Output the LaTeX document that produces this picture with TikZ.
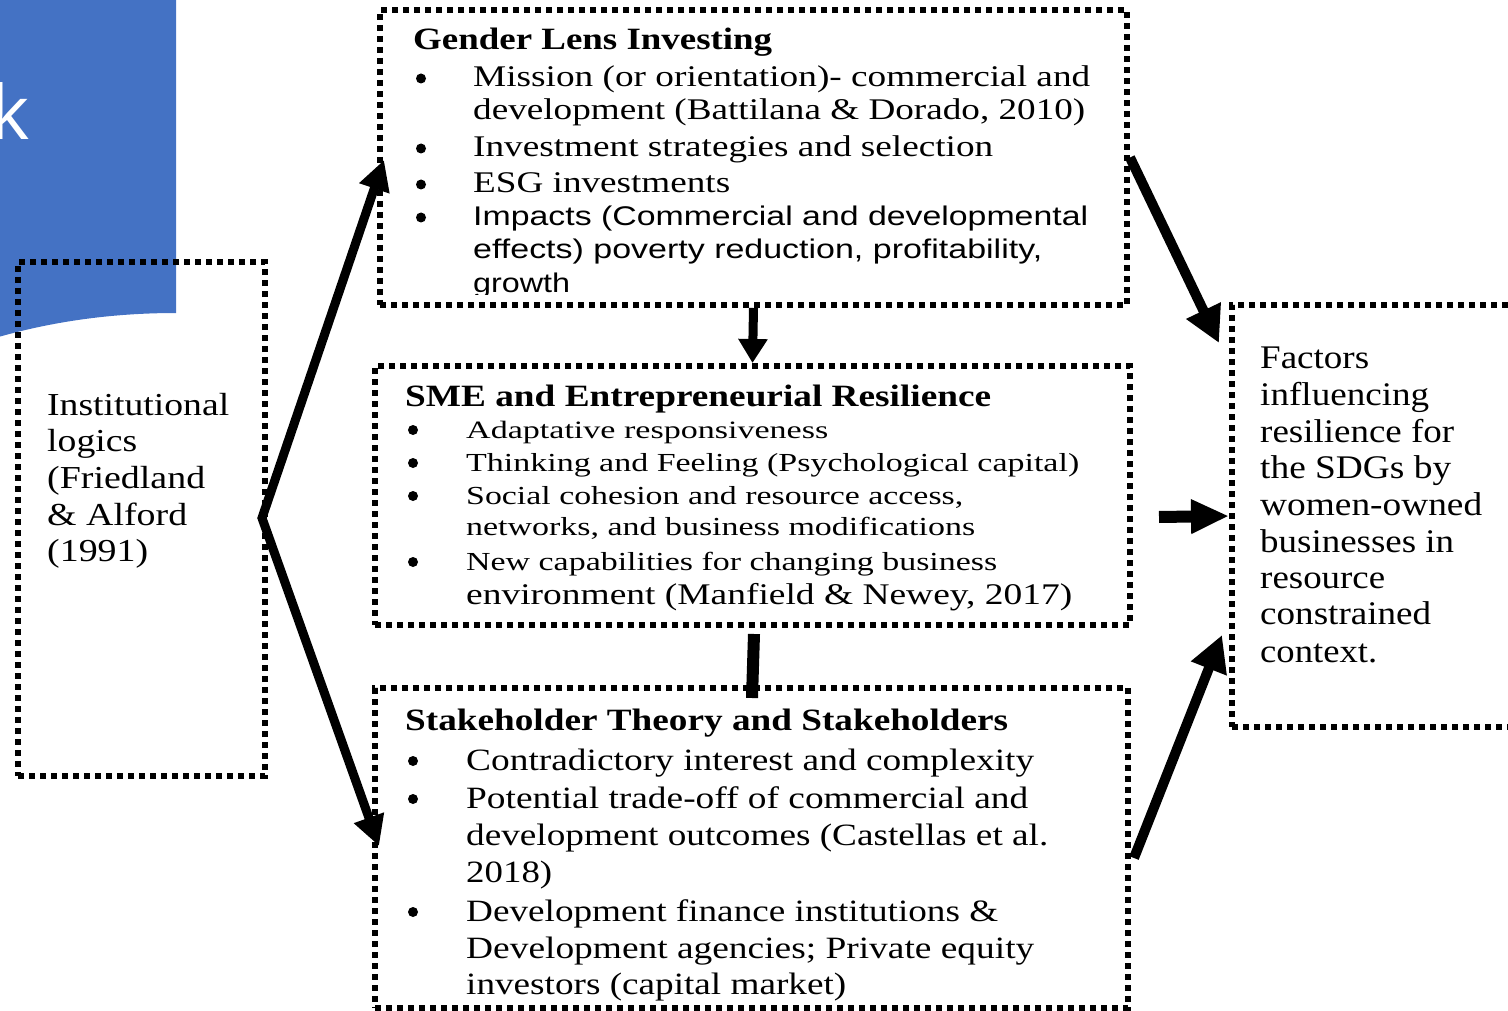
\documentclass[tikz,border=0pt]{standalone}
\usepackage{fontspec}
\setmainfont{Liberation Serif}
\newfontfamily\sansf{Liberation Sans}
\newfontfamily\kfont{Open Sans}
\usetikzlibrary{arrows.meta}
\definecolor{slideblue}{RGB}{68,114,196}
\newcommand{\fitw}[2]{\resizebox{#1pt}{\height}{#2}}
\begin{document}
\begin{tikzpicture}[x=1pt,y=-1pt,
  dotbox/.style={draw=black, line width=6pt, dash pattern=on 6pt off 5pt, inner sep=0pt},
  txt/.style={anchor=base west, inner sep=0pt, font=\fontsize{30}{36}\selectfont},
  ttl/.style={anchor=base west, inner sep=0pt, font=\fontsize{31}{36}\selectfont\bfseries},
  bdot/.style={circle, fill=black, inner sep=0pt, minimum size=10pt},
  bigarrow/.style={line width=10pt, -{Triangle[length=36pt,width=36pt]}},
]
\useasboundingbox (0,0) rectangle (1508,1011);
% slide background piece
\fill[slideblue] (-5,-5) -- (176,-5) -- (176,313) .. controls (110,313) and (50,322) .. (-5,338) -- cycle;
\node[anchor=base east, inner sep=0pt, text=white, font=\fontsize{75}{80}\kfont] (kk) at (30,140) {k};

% boxes
\node[dotbox, minimum width=247pt, minimum height=514pt] (L) at (141.5,519) {};
\node[dotbox, minimum width=747pt, minimum height=295pt] (b1) at (753.5,157.5) {};
\node[dotbox, minimum width=755pt, minimum height=259pt] (b2) at (752.5,495.5) {};
\node[dotbox, minimum width=753pt, minimum height=320pt] (b3) at (751.5,848) {};
\node[dotbox, minimum width=290pt, minimum height=422pt] (R) at (1377,516) {};

% left box text
\node[txt, font=\fontsize{32}{36}\selectfont] (l1) at (47,415) {\fitw{182}{Institutional}};
\node[txt, font=\fontsize{32}{36}\selectfont] (l2) at (47,451) {\fitw{90}{logics}};
\node[txt, font=\fontsize{32}{36}\selectfont] (l3) at (47,488) {\fitw{158}{(Friedland}};
\node[txt, font=\fontsize{32}{36}\selectfont] (l4) at (47,525) {\fitw{140}{\& Alford}};
\node[txt, font=\fontsize{32}{36}\selectfont] (l5) at (47,561) {\fitw{101}{(1991)}};

% right box text
\node[txt, font=\fontsize{33}{36}\selectfont] (r1) at (1260,368) {\fitw{109}{Factors}};
\node[txt, font=\fontsize{33}{36}\selectfont] (r2) at (1260,405) {\fitw{169}{influencing}};
\node[txt, font=\fontsize{33}{36}\selectfont] (r3) at (1260,442) {\fitw{194}{resilience for}};
\node[txt, font=\fontsize{33}{36}\selectfont] (r4) at (1260,478) {\fitw{191}{the SDGs by}};
\node[txt, font=\fontsize{33}{36}\selectfont] (r5) at (1260,515) {\fitw{222}{women-owned}};
\node[txt, font=\fontsize{33}{36}\selectfont] (r6) at (1260,552) {\fitw{194}{businesses in}};
\node[txt, font=\fontsize{33}{36}\selectfont] (r7) at (1260,588) {\fitw{125}{resource}};
\node[txt, font=\fontsize{33}{36}\selectfont] (r8) at (1260,624) {\fitw{171}{constrained}};
\node[txt, font=\fontsize{33}{36}\selectfont] (r9) at (1260,662) {\fitw{117}{context.}};

% box 1 text
\node[ttl] (g0) at (413,50) {\fitw{359}{Gender Lens Investing}};
\node[bdot] (gb1) at (421,78.5) {};
\node[bdot] (gb2) at (421,148.5) {};
\node[bdot] (gb3) at (421,184.5) {};
\node[bdot] (gb4) at (421,217.5) {};
\node[txt] (g1) at (473,87) {\fitw{617}{Mission (or orientation)- commercial and}};
\node[txt] (g2) at (473,120) {\fitw{612}{development (Battilana \& Dorado, 2010)}};
\node[txt] (g3) at (473,157) {\fitw{520}{Investment strategies and selection}};
\node[txt] (g4) at (473,193) {\fitw{257}{ESG investments}};
\node[txt, font=\fontsize{27}{36}\sansf] (g5) at (473,226) {\fitw{615}{Impacts (Commercial and developmental}};
\node[txt, font=\fontsize{27}{36}\sansf] (g6) at (473,259) {\fitw{569}{effects) poverty reduction, profitability,}};
\begin{scope}
\clip (380,260) rectangle (1127,294.5);
\node[txt, font=\fontsize{27}{36}\sansf] (g7) at (473,292) {\fitw{97}{growth}};
\end{scope}

% box 2 text
\node[ttl] (s0) at (405,406) {\fitw{586}{SME and Entrepreneurial Resilience}};
\node[bdot] (sb1) at (413,430) {};
\node[bdot] (sb2) at (413,463) {};
\node[bdot] (sb3) at (413,496) {};
\node[bdot] (sb4) at (413,562) {};
\node[txt, font=\fontsize{25}{36}\selectfont] (s1) at (466,438) {\fitw{362}{Adaptative responsiveness}};
\node[txt, font=\fontsize{26}{36}\selectfont] (s2) at (466,471) {\fitw{613}{Thinking and Feeling (Psychological capital)}};
\node[txt, font=\fontsize{26}{36}\selectfont] (s3) at (466,504) {\fitw{497}{Social cohesion and resource access,}};
\node[txt, font=\fontsize{26}{36}\selectfont] (s4) at (466,535) {\fitw{509}{networks, and business modifications}};
\node[txt, font=\fontsize{26}{36}\selectfont] (s5) at (466,570) {\fitw{531}{New capabilities for changing business}};
\node[txt, font=\fontsize{30}{36}\selectfont] (s6) at (466,604) {\fitw{606}{environment (Manfield \& Newey, 2017)}};

% box 3 text
\node[ttl] (k0) at (405,730) {\fitw{603}{Stakeholder Theory and Stakeholders}};
\node[bdot] (kb1) at (413,761) {};
\node[bdot] (kb2) at (413,799) {};
\node[bdot] (kb3) at (413,912) {};
\node[txt, font=\fontsize{31}{36}\selectfont] (k1) at (466,770) {\fitw{568}{Contradictory interest and complexity}};
\node[txt, font=\fontsize{31}{36}\selectfont] (k2) at (466,808) {\fitw{562}{Potential trade-off of commercial and}};
\node[txt, font=\fontsize{31}{36}\selectfont] (k3) at (466,845) {\fitw{582}{development outcomes (Castellas et al.}};
\node[txt, font=\fontsize{31}{36}\selectfont] (k4) at (466,882) {\fitw{86}{2018)}};
\node[txt, font=\fontsize{31}{36}\selectfont] (k5) at (466,921) {\fitw{532}{Development finance institutions \&}};
\node[txt, font=\fontsize{31}{36}\selectfont] (k6) at (466,958) {\fitw{568}{Development agencies; Private equity}};
\node[txt, font=\fontsize{31}{36}\selectfont] (k7) at (466,994) {\fitw{380}{investors (capital market)}};

% connectors
\coordinate (up1) at (384,160);
\coordinate (dn1) at (379,846);
\coordinate (junc) at (262,518);
\draw[line width=9pt, line join=miter, {Triangle[length=30pt,width=30pt]}-{Triangle[length=30pt,width=30pt]}]
  (up1) -- (junc) -- (dn1);
\coordinate (tipA) at (1219,343);
\coordinate (startB) at (1134,858);
\coordinate (tipB) at (1222,635);
\coordinate (midS) at (1159,517);
\coordinate (barA) at (754,634);
\coordinate (barB) at (752,698);
\draw[bigarrow] (b1.east) -- (tipA);
\draw[bigarrow] (startB) -- (tipB);
\draw[line width=12pt, -{Triangle[length=38pt,width=32pt]}] (midS) -- (R.west);
\draw[line width=9pt, -{Triangle[length=24pt,width=28pt]}] (b1.south) -- (b2.north);
\draw[line width=12pt] (barA) -- (barB);
\end{tikzpicture}
\end{document}
